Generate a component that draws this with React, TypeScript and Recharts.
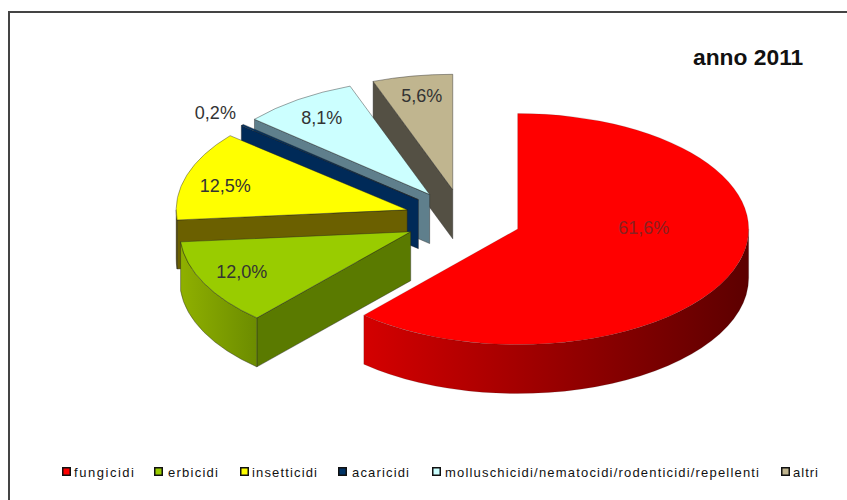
import React from 'react';
import { PieChart, Pie, Legend } from 'recharts';

const categories = ['fungicidi', 'erbicidi', 'insetticidi', 'acaricidi', 'molluschicidi/nematocidi/rodenticidi/repellenti', 'altri'];
const values = [61.6, 12.0, 12.5, 0.2, 8.1, 5.6];

const topColors = ['#ff0000', '#99cc00', '#ffff00', '#003366', '#ccffff', '#c0b58f'];
const wallColors = ['#8a0000', '#5a7a00', '#6b6000', '#002a58', '#5f7f8c', '#545044'];
const rimFrom = ['#d40000', '#8fb000', '#6b6000', '#002a58', '#5f7f8c', '#545044'];
const rimTo = ['#5c0000', '#6c8c00', '#6b6000', '#002a58', '#5f7f8c', '#545044'];

// label offsets from the tip of each pulled out slice
const labelDx = [126, -169, -182, -203, -108, -31];
const labelDy = [-1, 40, -24, -87, -77, -94];

const legendSwatchX = [62, 154, 240, 338, 432, 781];
const legendTextX = [74, 168, 252, 352, 445, 793];
const legendTextW = [60, 50, 65, 57, 314, 25];

const WIDTH = 847;
const HEIGHT = 500;
const SQUASH = 0.5;
const DEPTH = 49;
const EXPLODE = 58.5;

const rad = (deg: number) => (deg * Math.PI) / 180;

// reversed so the back slices get painted first, the pie runs counter clockwise from 12 o'clock
const rows = categories
  .map((name, idx) => ({ name, value: values[idx], fill: topColors[idx], idx }))
  .reverse();

const tipOf = (p: any) => ({
  x: p.cx + EXPLODE * Math.cos(rad(p.midAngle)),
  y: p.cy - EXPLODE * SQUASH * Math.sin(rad(p.midAngle)),
});

const Slice3D = (props: any) => {
  const { outerRadius: r, startAngle, endAngle } = props;
  const idx = props.idx ?? props.payload?.idx;
  const tip = tipOf(props);
  const at = (deg: number) => ({
    x: tip.x + r * Math.cos(rad(deg)),
    y: tip.y - r * SQUASH * Math.sin(rad(deg)),
  });
  const a = at(startAngle);
  const b = at(endAngle);
  const large = endAngle - startAngle > 180 ? 1 : 0;
  const ry = r * SQUASH;

  const wall = (p: { x: number; y: number }) =>
    `M${tip.x},${tip.y} L${p.x},${p.y} L${p.x},${p.y + DEPTH} L${tip.x},${tip.y + DEPTH} Z`;

  // outer wall only shows on the lower half of the ellipse
  let rimPath = '';
  const lo = Math.max(startAngle, 180);
  const hi = Math.min(endAngle, 360);
  if (hi > lo) {
    const p = at(lo);
    const q = at(hi);
    rimPath = `M${p.x},${p.y} A${r},${ry} 0 0 0 ${q.x},${q.y} L${q.x},${q.y + DEPTH} A${r},${ry} 0 0 1 ${p.x},${p.y + DEPTH} Z`;
  }

  const edge = { stroke: '#222', strokeWidth: 0.6, strokeOpacity: idx === 0 ? 0.25 : 0.7 };

  return (
    <g>
      <defs>
        <linearGradient id={`rim-${idx}`} x1="0" y1="0" x2="1" y2="0">
          <stop offset="0%" stopColor={rimFrom[idx]} />
          <stop offset="100%" stopColor={rimTo[idx]} />
        </linearGradient>
      </defs>
      {Math.cos(rad(endAngle)) < -0.001 && <path d={wall(b)} fill={wallColors[idx]} {...edge} />}
      {Math.cos(rad(startAngle)) > 0.001 && <path d={wall(a)} fill={wallColors[idx]} {...edge} />}
      {rimPath && <path d={rimPath} fill={`url(#rim-${idx})`} {...edge} />}
      <path
        d={`M${tip.x},${tip.y} L${a.x},${a.y} A${r},${ry} 0 ${large} 0 ${b.x},${b.y} Z`}
        fill={topColors[idx]}
        {...edge}
      />
    </g>
  );
};

const SliceLabel = (props: any) => {
  const idx = props.idx ?? props.payload?.idx;
  const tip = tipOf(props);
  return (
    <text
      x={tip.x + labelDx[idx]}
      y={tip.y + labelDy[idx]}
      textAnchor="middle"
      dominantBaseline="central"
      fontFamily="Liberation Sans, Arial, sans-serif"
      fontSize={18}
      fill={idx === 0 ? '#8a2020' : '#333'}
    >
      {values[idx].toFixed(1).replace('.', ',')}%
    </text>
  );
};

const LegendRow = () => (
  <svg width={WIDTH} height={24} style={{ display: 'block' }}>
    {categories.map((name, i) => (
      <g key={name}>
        <rect x={legendSwatchX[i] + 0.75} y={5.75} width={7.5} height={7.5} fill={topColors[i]} stroke="#111" strokeWidth={1.5} />
        <text
          x={legendTextX[i]}
          y={14.5}
          fontFamily="Liberation Sans, Arial, sans-serif"
          fontSize={13}
          fill="#111"
          textLength={legendTextW[i]}
          lengthAdjust="spacing"
        >
          {name}
        </text>
      </g>
    ))}
  </svg>
);

export default function App() {
  return (
    <div style={{ position: 'absolute', left: 0, top: 0, width: WIDTH, height: HEIGHT, background: '#fff', overflow: 'hidden' }}>
      <div style={{ position: 'absolute', left: 8, top: 11, right: 0, bottom: 0, borderLeft: '2px solid #444', borderTop: '2px solid #444' }} />
      <PieChart width={WIDTH} height={HEIGHT} style={{ position: 'absolute', left: 0, top: 0 }}>
        <Pie
          data={rows}
          dataKey="value"
          nameKey="name"
          cx={458}
          cy={213.6}
          outerRadius={231}
          startAngle={90}
          endAngle={450}
          stroke="none"
          shape={Slice3D}
          label={SliceLabel}
          labelLine={false}
          isAnimationActive={false}
        />
        <Legend content={LegendRow} wrapperStyle={{ position: 'absolute', left: 0, top: 461.5, width: WIDTH }} />
      </PieChart>
      <div style={{ position: 'absolute', left: 693, top: 44, fontFamily: 'Liberation Sans, Arial, sans-serif', fontWeight: 700, fontSize: 22.8, lineHeight: '26px', color: '#111', whiteSpace: 'nowrap' }}>
        anno 2011
      </div>
    </div>
  );
}
